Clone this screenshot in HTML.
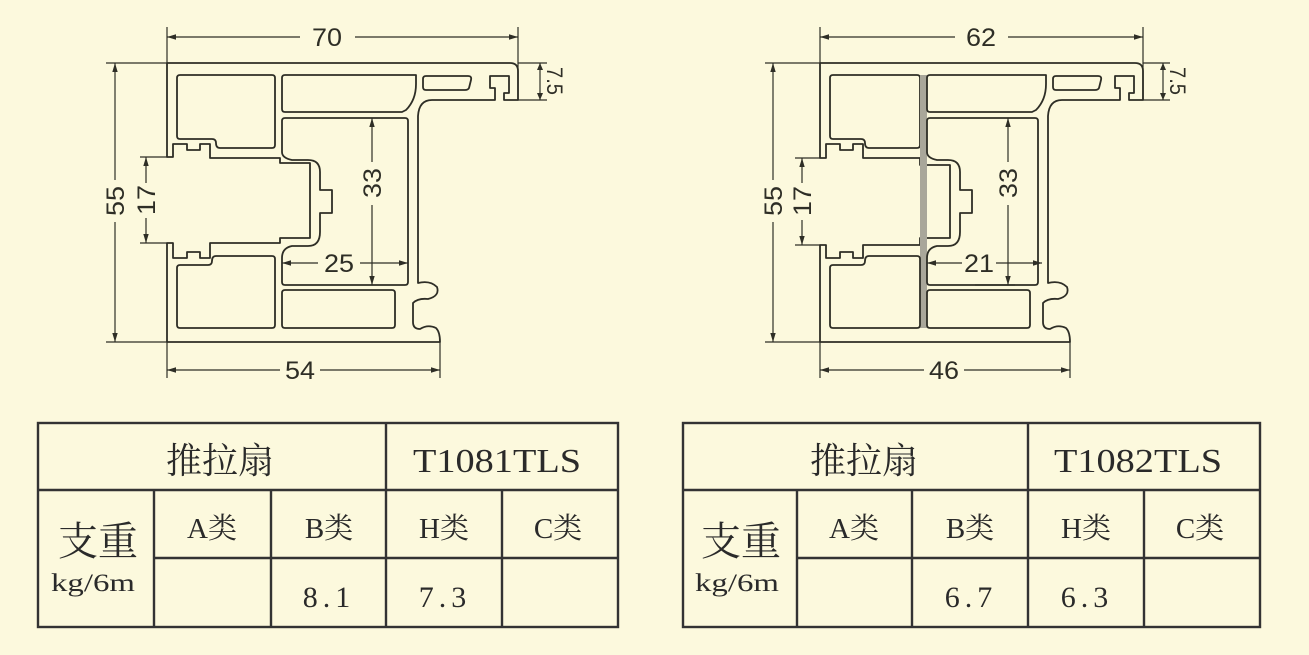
<!DOCTYPE html>
<html><head><meta charset="utf-8"><style>
html,body{margin:0;padding:0;background:#fcf9dd;}
svg{display:block}
.p{fill:none;stroke:#2e2e26;stroke-width:1.8;stroke-linejoin:round}
.d{stroke:#2e2e26;stroke-width:1.2;fill:none}
.dt{font-family:"Liberation Sans",sans-serif;font-size:25px;fill:#2e2e26;text-anchor:middle}
.tl{stroke:#333;stroke-width:2.4}
.tt{font-family:"Liberation Serif","Noto Serif CJK SC",serif;fill:#2a2a2a;text-anchor:middle}
</style></head><body>
<svg width="1309" height="655" viewBox="0 0 1309 655" xmlns="http://www.w3.org/2000/svg">
<defs>
<marker id="a" viewBox="0 0 10 10" refX="10" refY="5" markerWidth="9" markerHeight="9" orient="auto-start-reverse" markerUnits="userSpaceOnUse"><path d="M0,2 L10,5 L0,8 Z" fill="#2e2e26"/></marker>
</defs>
<rect width="1309" height="655" fill="#fcf9dd"/>

<!-- ===== Drawing 1 ===== -->
<path class="p" d="M167,63 H510 Q518,63 518,71 V100 H504 V93 H509 V76 H490 V88 H495 V100 H432 Q419,100 418,116 V283 Q430,280 437,287 Q440,296 428,299 Q418,298 413,303 V322 Q413,329 420,329 Q428,324 436,328 Q440,332 440,342 H167 V243 H173 V258 H187 V252 H200 V258 H210 V243 H280 V238 H310 V163 H280 V158 H210 V144 H200 V150 H187 V144 H173 V157 H167 Z"/>
<path class="p" d="M180,75 H272 Q275,75 275,78 V145 Q275,148 272,148 H220 Q216,148 216,143 Q216,139 212,139 H180 Q177,139 177,136 V78 Q177,75 180,75 Z"/>
<path class="p" d="M285,75 H416 V84 Q416,100 406,110 L402,112 H285 Q282,112 282,109 V78 Q282,75 285,75 Z"/>
<path class="p" d="M426,76 H468 Q472,76 471,80 L469,88 Q468,90 465,90 H426 Q423,90 423,87 V79 Q423,76 426,76 Z"/>
<path class="p" d="M285,118 H405 Q408,118 408,121 V282 Q408,285 405,285 H285 Q282,285 282,282 V258 Q282,248 292,246 H308 Q320,246 320,232 V213 H332 V190 H320 V172 Q320,160 308,160 H292 Q282,158 282,152 V121 Q282,118 285,118 Z"/>
<path class="p" d="M285,290 H392 Q395,290 395,293 V325 Q395,328 392,328 H285 Q282,328 282,325 V293 Q282,290 285,290 Z"/>
<path class="p" d="M180,265 H208 Q212,265 212,261 Q212,256 216,256 H272 Q275,256 275,259 V325 Q275,328 272,328 H180 Q177,328 177,325 V268 Q177,265 180,265 Z"/>
<!-- dims d1 -->
<line class="d" x1="167" y1="27" x2="167" y2="63"/><line class="d" x1="518" y1="27" x2="518" y2="100"/>
<line class="d" x1="167" y1="37" x2="300" y2="37" marker-start="url(#a)"/><line class="d" x1="355" y1="37" x2="518" y2="37" marker-end="url(#a)"/>
<text class="dt" x="327" y="46" textLength="30" lengthAdjust="spacingAndGlyphs">70</text>
<line class="d" x1="106" y1="63" x2="167" y2="63"/><line class="d" x1="106" y1="342" x2="167" y2="342"/>
<line class="d" x1="115" y1="63" x2="115" y2="180" marker-start="url(#a)"/><line class="d" x1="115" y1="222" x2="115" y2="342" marker-end="url(#a)"/>
<text class="dt" transform="translate(124,201) rotate(-90)" textLength="30" lengthAdjust="spacingAndGlyphs">55</text>
<line class="d" x1="140" y1="157" x2="167" y2="157"/><line class="d" x1="140" y1="243" x2="167" y2="243"/>
<line class="d" x1="146" y1="157" x2="146" y2="183" marker-start="url(#a)"/><line class="d" x1="146" y1="218" x2="146" y2="243" marker-end="url(#a)"/>
<text class="dt" transform="translate(155,200) rotate(-90)" textLength="30" lengthAdjust="spacingAndGlyphs">17</text>
<line class="d" x1="372" y1="118" x2="372" y2="162" marker-start="url(#a)"/><line class="d" x1="372" y1="205" x2="372" y2="285" marker-end="url(#a)"/>
<text class="dt" transform="translate(381,183) rotate(-90)" textLength="30" lengthAdjust="spacingAndGlyphs">33</text>
<line class="d" x1="282" y1="263" x2="318" y2="263" marker-start="url(#a)"/><line class="d" x1="360" y1="263" x2="408" y2="263" marker-end="url(#a)"/>
<text class="dt" x="339" y="272" textLength="30" lengthAdjust="spacingAndGlyphs">25</text>
<line class="d" x1="167" y1="342" x2="167" y2="378"/><line class="d" x1="440" y1="342" x2="440" y2="378"/>
<line class="d" x1="167" y1="370" x2="280" y2="370" marker-start="url(#a)"/><line class="d" x1="320" y1="370" x2="440" y2="370" marker-end="url(#a)"/>
<text class="dt" x="300" y="379" textLength="30" lengthAdjust="spacingAndGlyphs">54</text>
<line class="d" x1="518" y1="63" x2="547" y2="63"/><line class="d" x1="518" y1="100" x2="547" y2="100"/>
<line class="d" x1="540" y1="63" x2="540" y2="100"/>
<path d="M537,70 L540,63 L543,70Z M537,93 L540,100 L543,93Z" fill="#2e2e26"/>
<text class="dt" transform="translate(547,81) rotate(90)" style="font-size:22px" textLength="28" lengthAdjust="spacingAndGlyphs">7.5</text>

<!-- ===== Drawing 2 ===== -->
<path class="p" d="M820,63 H1135 Q1143,63 1143,71 V100 H1129 V93 H1134 V76 H1115 V88 H1120 V100 H1062 Q1049,100 1048,116 V283 Q1060,280 1067,287 Q1070,296 1058,299 Q1048,298 1043,303 V322 Q1043,329 1050,329 Q1058,324 1066,328 Q1070,332 1070,342 H820 V245 H826 V258 H840 V252 H853 V258 H863 V245 H920 V238 H950 V165 H920 V158 H863 V144 H853 V150 H840 V144 H826 V158 H820 Z"/>
<path class="p" d="M833,75 H917 Q920,75 920,78 V145 Q920,148 917,148 H869 Q865,148 865,143 Q865,139 861,139 H833 Q830,139 830,136 V78 Q830,75 833,75 Z"/>
<rect x="920" y="75" width="7" height="253" fill="#a9a79a"/>
<path class="p" d="M930,75 H1046 V84 Q1046,100 1036,110 L1032,112 H930 Q927,112 927,109 V78 Q927,75 930,75 Z"/>
<path class="p" d="M1056,76 H1098 Q1102,76 1101,80 L1099,88 Q1098,90 1095,90 H1056 Q1053,90 1053,87 V79 Q1053,76 1056,76 Z"/>
<path class="p" d="M930,118 H1035 Q1038,118 1038,121 V282 Q1038,285 1035,285 H930 Q927,285 927,282 V258 Q927,248 937,246 H948 Q960,246 960,232 V213 H972 V190 H960 V172 Q960,160 948,160 H937 Q927,158 927,152 V121 Q927,118 930,118 Z"/>
<path class="p" d="M930,290 H1027 Q1030,290 1030,293 V325 Q1030,328 1027,328 H930 Q927,328 927,325 V293 Q927,290 930,290 Z"/>
<path class="p" d="M833,265 H861 Q865,265 865,261 Q865,256 869,256 H917 Q920,256 920,259 V325 Q920,328 917,328 H833 Q830,328 830,325 V268 Q830,265 833,265 Z"/>
<!-- dims d2 -->
<line class="d" x1="820" y1="27" x2="820" y2="63"/><line class="d" x1="1143" y1="27" x2="1143" y2="100"/>
<line class="d" x1="820" y1="37" x2="955" y2="37" marker-start="url(#a)"/><line class="d" x1="1008" y1="37" x2="1143" y2="37" marker-end="url(#a)"/>
<text class="dt" x="981" y="46" textLength="30" lengthAdjust="spacingAndGlyphs">62</text>
<line class="d" x1="765" y1="63" x2="820" y2="63"/><line class="d" x1="765" y1="342" x2="820" y2="342"/>
<line class="d" x1="773" y1="63" x2="773" y2="180" marker-start="url(#a)"/><line class="d" x1="773" y1="222" x2="773" y2="342" marker-end="url(#a)"/>
<text class="dt" transform="translate(782,201) rotate(-90)" textLength="30" lengthAdjust="spacingAndGlyphs">55</text>
<line class="d" x1="795" y1="158" x2="820" y2="158"/><line class="d" x1="795" y1="245" x2="820" y2="245"/>
<line class="d" x1="802" y1="158" x2="802" y2="183" marker-start="url(#a)"/><line class="d" x1="802" y1="220" x2="802" y2="245" marker-end="url(#a)"/>
<text class="dt" transform="translate(811,201) rotate(-90)" textLength="30" lengthAdjust="spacingAndGlyphs">17</text>
<line class="d" x1="1008" y1="118" x2="1008" y2="162" marker-start="url(#a)"/><line class="d" x1="1008" y1="205" x2="1008" y2="285" marker-end="url(#a)"/>
<text class="dt" transform="translate(1017,183) rotate(-90)" textLength="30" lengthAdjust="spacingAndGlyphs">33</text>
<line class="d" x1="975" y1="285" x2="1015" y2="285"/>
<line class="d" x1="927" y1="263" x2="962" y2="263" marker-start="url(#a)"/><line class="d" x1="996" y1="263" x2="1042" y2="263" marker-end="url(#a)"/>
<text class="dt" x="979" y="272" textLength="30" lengthAdjust="spacingAndGlyphs">21</text>
<line class="d" x1="820" y1="342" x2="820" y2="378"/><line class="d" x1="1070" y1="342" x2="1070" y2="378"/>
<line class="d" x1="820" y1="370" x2="924" y2="370" marker-start="url(#a)"/><line class="d" x1="964" y1="370" x2="1070" y2="370" marker-end="url(#a)"/>
<text class="dt" x="944" y="379" textLength="30" lengthAdjust="spacingAndGlyphs">46</text>
<line class="d" x1="1143" y1="63" x2="1170" y2="63"/><line class="d" x1="1143" y1="100" x2="1170" y2="100"/>
<line class="d" x1="1163" y1="63" x2="1163" y2="100"/>
<path d="M1160,70 L1163,63 L1166,70Z M1160,93 L1163,100 L1166,93Z" fill="#2e2e26"/>
<text class="dt" transform="translate(1170,81) rotate(90)" style="font-size:22px" textLength="28" lengthAdjust="spacingAndGlyphs">7.5</text>

<!-- ===== Table 1 ===== -->
<rect x="38" y="423" width="580" height="204" fill="none" class="tl"/>
<line class="tl" x1="38" y1="490" x2="618" y2="490"/>
<line class="tl" x1="154" y1="558" x2="618" y2="558"/>
<line class="tl" x1="386" y1="423" x2="386" y2="627"/>
<line class="tl" x1="154" y1="490" x2="154" y2="627"/>
<line class="tl" x1="271" y1="490" x2="271" y2="627"/>
<line class="tl" x1="502" y1="490" x2="502" y2="627"/>
<text class="tt" x="220" y="473" font-size="36">推拉扇</text>
<text class="tt" x="497" y="472" font-size="34" textLength="168" lengthAdjust="spacingAndGlyphs">T1081TLS</text>
<text class="tt" x="98" y="555" font-size="40">支重</text>
<text class="tt" x="93" y="591" font-size="25" textLength="84" lengthAdjust="spacingAndGlyphs">kg/6m</text>
<text class="tt" x="212" y="538" font-size="29">A类</text>
<text class="tt" x="329" y="538" font-size="29">B类</text>
<text class="tt" x="444" y="538" font-size="29">H类</text>
<text class="tt" x="558" y="538" font-size="29">C类</text>
<text class="tt" x="329" y="607" font-size="30" letter-spacing="5">8.1</text>
<text class="tt" x="445" y="607" font-size="30" letter-spacing="5">7.3</text>

<!-- ===== Table 2 ===== -->
<rect x="683" y="423" width="577" height="204" fill="none" class="tl"/>
<line class="tl" x1="683" y1="490" x2="1260" y2="490"/>
<line class="tl" x1="797" y1="558" x2="1260" y2="558"/>
<line class="tl" x1="1028" y1="423" x2="1028" y2="627"/>
<line class="tl" x1="797" y1="490" x2="797" y2="627"/>
<line class="tl" x1="912" y1="490" x2="912" y2="627"/>
<line class="tl" x1="1144" y1="490" x2="1144" y2="627"/>
<text class="tt" x="864" y="473" font-size="36">推拉扇</text>
<text class="tt" x="1138" y="472" font-size="34" textLength="168" lengthAdjust="spacingAndGlyphs">T1082TLS</text>
<text class="tt" x="741" y="555" font-size="40">支重</text>
<text class="tt" x="737" y="591" font-size="25" textLength="84" lengthAdjust="spacingAndGlyphs">kg/6m</text>
<text class="tt" x="854" y="538" font-size="29">A类</text>
<text class="tt" x="970" y="538" font-size="29">B类</text>
<text class="tt" x="1086" y="538" font-size="29">H类</text>
<text class="tt" x="1200" y="538" font-size="29">C类</text>
<text class="tt" x="971" y="607" font-size="30" letter-spacing="5">6.7</text>
<text class="tt" x="1087" y="607" font-size="30" letter-spacing="5">6.3</text>
</svg>
</body></html>
